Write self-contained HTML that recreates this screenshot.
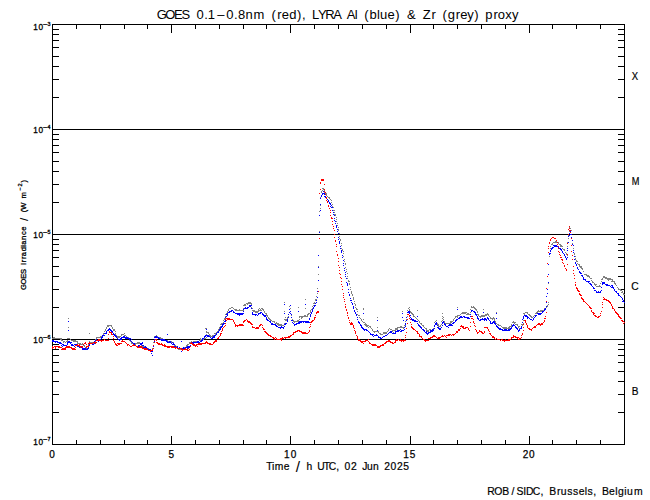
<!DOCTYPE html>
<html><head><meta charset="utf-8"><title>GOES / LYRA</title>
<style>
html,body{margin:0;padding:0;background:#fff;}
body{width:650px;height:500px;overflow:hidden;}
svg{display:block;}
text{font-family:"Liberation Sans", Arial, sans-serif;fill:#000;}
</style></head>
<body>
<svg width="650" height="500" viewBox="0 0 650 500">
<rect x="0" y="0" width="650" height="500" fill="#fff"/>
<g shape-rendering="crispEdges">
<path fill="#000" d="M52 24h573v1h-573zM52 444h573v1h-573zM52 24h1v421h-1zM624 24h1v421h-1zM52 129h572v1h-572zM52 234h572v1h-572zM52 339h572v1h-572zM53 97h6v1h-6zM618 97h6v1h-6zM53 79h6v1h-6zM618 79h6v1h-6zM53 66h6v1h-6zM618 66h6v1h-6zM53 56h6v1h-6zM618 56h6v1h-6zM53 47h6v1h-6zM618 47h6v1h-6zM53 40h6v1h-6zM618 40h6v1h-6zM53 34h6v1h-6zM618 34h6v1h-6zM53 29h6v1h-6zM618 29h6v1h-6zM53 202h6v1h-6zM618 202h6v1h-6zM53 184h6v1h-6zM618 184h6v1h-6zM53 171h6v1h-6zM618 171h6v1h-6zM53 161h6v1h-6zM618 161h6v1h-6zM53 152h6v1h-6zM618 152h6v1h-6zM53 145h6v1h-6zM618 145h6v1h-6zM53 139h6v1h-6zM618 139h6v1h-6zM53 134h6v1h-6zM618 134h6v1h-6zM53 307h6v1h-6zM618 307h6v1h-6zM53 289h6v1h-6zM618 289h6v1h-6zM53 276h6v1h-6zM618 276h6v1h-6zM53 266h6v1h-6zM618 266h6v1h-6zM53 257h6v1h-6zM618 257h6v1h-6zM53 250h6v1h-6zM618 250h6v1h-6zM53 244h6v1h-6zM618 244h6v1h-6zM53 239h6v1h-6zM618 239h6v1h-6zM53 412h6v1h-6zM618 412h6v1h-6zM53 394h6v1h-6zM618 394h6v1h-6zM53 381h6v1h-6zM618 381h6v1h-6zM53 371h6v1h-6zM618 371h6v1h-6zM53 362h6v1h-6zM618 362h6v1h-6zM53 355h6v1h-6zM618 355h6v1h-6zM53 349h6v1h-6zM618 349h6v1h-6zM53 344h6v1h-6zM618 344h6v1h-6zM76 440h1v4h-1zM76 25h1v4h-1zM100 440h1v4h-1zM100 25h1v4h-1zM124 440h1v4h-1zM124 25h1v4h-1zM147 440h1v4h-1zM147 25h1v4h-1zM171 436h1v8h-1zM171 25h1v8h-1zM195 440h1v4h-1zM195 25h1v4h-1zM219 440h1v4h-1zM219 25h1v4h-1zM243 440h1v4h-1zM243 25h1v4h-1zM266 440h1v4h-1zM266 25h1v4h-1zM290 436h1v8h-1zM290 25h1v8h-1zM314 440h1v4h-1zM314 25h1v4h-1zM338 440h1v4h-1zM338 25h1v4h-1zM362 440h1v4h-1zM362 25h1v4h-1zM386 440h1v4h-1zM386 25h1v4h-1zM410 436h1v8h-1zM410 25h1v8h-1zM433 440h1v4h-1zM433 25h1v4h-1zM457 440h1v4h-1zM457 25h1v4h-1zM481 440h1v4h-1zM481 25h1v4h-1zM505 440h1v4h-1zM505 25h1v4h-1zM529 436h1v8h-1zM529 25h1v8h-1zM552 440h1v4h-1zM552 25h1v4h-1zM576 440h1v4h-1zM576 25h1v4h-1zM600 440h1v4h-1zM600 25h1v4h-1z"/>
<path fill="#808080" d="M52 338h1v1h-1zM53 337h1v2h-1zM54 337h1v2h-1zM55 338h1v1h-1zM56 338h1v1h-1zM57 338h1v1h-1zM58 338h1v1h-1zM59 338h1v1h-1zM60 338h1v2h-1zM61 338h1v3h-1zM62 340h1v1h-1zM63 341h1v2h-1zM64 341h1v1h-1zM65 342h1v1h-1zM66 341h1v1h-1zM67 338h1v1h-1zM67 340h1v2h-1zM68 318h1v1h-1zM68 327h1v1h-1zM68 338h1v1h-1zM69 338h1v1h-1zM70 339h1v1h-1zM71 340h1v1h-1zM72 340h1v1h-1zM73 340h1v2h-1zM74 340h1v2h-1zM75 340h1v2h-1zM76 341h1v1h-1zM77 341h1v3h-1zM78 343h1v1h-1zM79 343h1v2h-1zM80 343h1v2h-1zM81 344h1v1h-1zM82 343h1v2h-1zM83 344h1v2h-1zM84 345h1v2h-1zM85 347h1v1h-1zM86 347h1v2h-1zM87 348h1v1h-1zM88 344h1v2h-1zM88 347h1v1h-1zM89 333h1v1h-1zM89 341h1v1h-1zM89 343h1v1h-1zM90 342h1v1h-1zM91 342h1v1h-1zM92 342h1v2h-1zM93 343h1v1h-1zM94 342h1v2h-1zM95 339h1v1h-1zM95 341h1v1h-1zM96 337h1v2h-1zM97 337h1v1h-1zM98 337h1v1h-1zM99 337h1v1h-1zM100 336h1v2h-1zM101 336h1v2h-1zM102 335h1v2h-1zM103 333h1v2h-1zM104 331h1v1h-1zM104 333h1v1h-1zM105 329h1v2h-1zM106 327h1v2h-1zM107 325h1v2h-1zM108 325h1v2h-1zM109 325h1v1h-1zM110 325h1v1h-1zM111 325h1v2h-1zM112 327h1v2h-1zM113 329h1v2h-1zM114 329h1v2h-1zM115 331h1v1h-1zM115 333h1v2h-1zM116 335h1v1h-1zM117 336h1v2h-1zM118 336h1v2h-1zM119 336h1v2h-1zM120 336h1v1h-1zM121 334h1v2h-1zM122 334h1v1h-1zM123 334h1v1h-1zM124 333h1v1h-1zM124 335h1v1h-1zM125 335h1v1h-1zM126 336h1v1h-1zM127 337h1v2h-1zM128 337h1v2h-1zM129 338h1v3h-1zM130 340h1v2h-1zM131 341h1v3h-1zM132 342h1v2h-1zM133 343h1v2h-1zM134 344h1v2h-1zM135 343h1v2h-1zM136 343h1v1h-1zM137 342h1v2h-1zM138 342h1v2h-1zM139 342h1v2h-1zM140 343h1v2h-1zM141 344h1v2h-1zM142 345h1v2h-1zM143 346h1v2h-1zM144 346h1v2h-1zM145 347h1v1h-1zM146 347h1v2h-1zM147 348h1v1h-1zM148 348h1v3h-1zM149 350h1v1h-1zM150 350h1v2h-1zM151 350h1v1h-1zM152 348h1v1h-1zM152 350h1v2h-1zM153 342h1v1h-1zM153 345h1v1h-1zM154 336h1v2h-1zM154 339h1v1h-1zM155 336h1v1h-1zM156 335h1v2h-1zM157 336h1v1h-1zM158 337h1v1h-1zM159 337h1v1h-1zM160 337h1v3h-1zM161 338h1v2h-1zM162 338h1v2h-1zM163 339h1v1h-1zM164 339h1v2h-1zM165 340h1v1h-1zM166 340h1v1h-1zM167 340h1v2h-1zM168 341h1v1h-1zM169 341h1v2h-1zM170 342h1v1h-1zM171 341h1v2h-1zM172 342h1v1h-1zM173 342h1v2h-1zM174 344h1v2h-1zM175 345h1v2h-1zM176 346h1v2h-1zM177 347h1v2h-1zM178 348h1v2h-1zM179 349h1v1h-1zM180 349h1v1h-1zM181 349h1v1h-1zM182 349h1v1h-1zM183 348h1v2h-1zM184 347h1v1h-1zM185 347h1v1h-1zM186 345h1v2h-1zM187 344h1v2h-1zM188 344h1v1h-1zM189 342h1v2h-1zM190 342h1v1h-1zM191 341h1v2h-1zM192 342h1v1h-1zM193 341h1v2h-1zM194 341h1v1h-1zM195 341h1v2h-1zM196 341h1v2h-1zM197 341h1v2h-1zM198 342h1v1h-1zM199 340h1v1h-1zM200 338h1v3h-1zM201 339h1v1h-1zM202 338h1v1h-1zM203 338h1v2h-1zM204 338h1v1h-1zM205 328h1v1h-1zM205 338h1v1h-1zM206 328h1v1h-1zM206 331h1v2h-1zM206 334h1v1h-1zM206 337h1v1h-1zM207 332h1v1h-1zM208 332h1v2h-1zM209 334h1v2h-1zM210 335h1v2h-1zM211 336h1v1h-1zM212 335h1v3h-1zM213 335h1v1h-1zM214 333h1v1h-1zM214 335h1v1h-1zM215 333h1v2h-1zM216 332h1v2h-1zM217 331h1v2h-1zM218 329h1v3h-1zM219 327h1v2h-1zM220 324h1v1h-1zM220 326h1v2h-1zM221 323h1v2h-1zM222 323h1v1h-1zM223 320h1v1h-1zM223 322h1v1h-1zM224 318h1v2h-1zM225 314h1v1h-1zM225 316h1v1h-1zM225 318h1v1h-1zM226 313h1v1h-1zM227 311h1v2h-1zM228 309h1v2h-1zM229 308h1v1h-1zM230 308h1v1h-1zM231 307h1v1h-1zM232 307h1v1h-1zM233 308h1v1h-1zM234 309h1v1h-1zM235 309h1v2h-1zM236 309h1v2h-1zM237 310h1v1h-1zM238 310h1v1h-1zM239 309h1v2h-1zM240 310h1v1h-1zM241 310h1v1h-1zM242 310h1v1h-1zM243 305h1v1h-1zM243 308h1v1h-1zM243 310h1v1h-1zM244 304h1v2h-1zM245 304h1v2h-1zM246 303h1v1h-1zM247 303h1v2h-1zM248 302h1v2h-1zM249 302h1v2h-1zM250 302h1v2h-1zM251 303h1v2h-1zM251 307h1v1h-1zM252 308h1v1h-1zM252 310h1v1h-1zM253 310h1v2h-1zM254 310h1v2h-1zM255 311h1v2h-1zM256 311h1v2h-1zM257 311h1v2h-1zM258 309h1v3h-1zM259 308h1v1h-1zM259 310h1v1h-1zM260 309h1v2h-1zM261 308h1v1h-1zM261 310h1v1h-1zM262 308h1v2h-1zM263 309h1v2h-1zM264 311h1v2h-1zM265 313h1v1h-1zM266 313h1v3h-1zM267 315h1v2h-1zM268 317h1v2h-1zM269 318h1v2h-1zM270 319h1v2h-1zM271 320h1v1h-1zM272 321h1v1h-1zM273 321h1v1h-1zM274 321h1v2h-1zM275 323h1v1h-1zM276 322h1v2h-1zM277 323h1v2h-1zM278 323h1v3h-1zM279 324h1v2h-1zM280 324h1v2h-1zM281 324h1v2h-1zM282 325h1v1h-1zM283 325h1v1h-1zM284 302h1v1h-1zM284 311h1v1h-1zM284 319h1v1h-1zM284 323h1v1h-1zM285 317h1v1h-1zM285 319h1v2h-1zM286 319h1v2h-1zM287 317h1v2h-1zM287 320h1v1h-1zM288 314h1v1h-1zM288 316h1v1h-1zM289 306h1v1h-1zM289 309h1v1h-1zM289 312h1v1h-1zM290 305h1v1h-1zM290 308h1v1h-1zM290 311h1v1h-1zM291 314h1v2h-1zM291 317h1v1h-1zM292 319h1v2h-1zM293 320h1v2h-1zM294 321h1v2h-1zM295 321h1v1h-1zM296 321h1v1h-1zM297 320h1v2h-1zM298 307h1v1h-1zM298 320h1v2h-1zM299 316h1v2h-1zM299 319h1v1h-1zM300 316h1v1h-1zM301 316h1v3h-1zM302 316h1v2h-1zM303 316h1v1h-1zM304 315h1v2h-1zM305 299h1v1h-1zM305 308h1v1h-1zM305 315h1v2h-1zM306 316h1v1h-1zM307 314h1v3h-1zM308 313h1v2h-1zM309 313h1v1h-1zM310 310h1v3h-1zM311 309h1v1h-1zM312 306h1v1h-1zM312 308h1v1h-1zM313 303h1v1h-1zM313 305h1v1h-1zM314 302h1v2h-1zM315 299h1v2h-1zM316 296h1v1h-1zM316 299h1v1h-1zM317 288h1v1h-1zM317 293h1v1h-1zM318 266h1v1h-1zM318 274h1v1h-1zM318 280h1v1h-1zM319 211h1v1h-1zM319 231h1v1h-1zM320 197h1v1h-1zM320 205h1v1h-1zM320 208h1v1h-1zM321 191h1v2h-1zM322 188h1v1h-1zM322 190h1v1h-1zM323 188h1v2h-1zM324 190h1v3h-1zM325 192h1v2h-1zM326 193h1v3h-1zM327 196h1v1h-1zM328 197h1v1h-1zM329 197h1v2h-1zM330 199h1v1h-1zM331 200h1v1h-1zM331 202h1v1h-1zM332 204h1v1h-1zM332 206h1v2h-1zM333 207h1v1h-1zM333 210h1v1h-1zM334 210h1v1h-1zM334 212h1v1h-1zM334 214h1v1h-1zM335 214h1v2h-1zM336 217h1v1h-1zM336 219h1v1h-1zM336 221h1v1h-1zM337 223h1v1h-1zM337 225h1v1h-1zM338 227h1v1h-1zM338 229h1v2h-1zM339 233h1v1h-1zM339 236h1v1h-1zM339 238h1v1h-1zM340 239h1v2h-1zM341 243h1v1h-1zM341 245h1v1h-1zM341 248h1v1h-1zM342 249h1v2h-1zM343 251h1v1h-1zM343 253h1v1h-1zM343 256h1v1h-1zM344 259h1v1h-1zM344 261h1v1h-1zM345 263h1v2h-1zM345 267h1v1h-1zM346 269h1v1h-1zM346 271h1v1h-1zM347 273h1v1h-1zM347 276h1v1h-1zM347 278h1v1h-1zM348 280h1v2h-1zM349 281h1v1h-1zM349 283h1v2h-1zM350 287h1v1h-1zM350 289h1v1h-1zM351 291h1v3h-1zM352 294h1v2h-1zM353 297h1v3h-1zM354 301h1v1h-1zM354 303h1v1h-1zM355 304h1v2h-1zM355 307h1v1h-1zM356 308h1v2h-1zM357 309h1v1h-1zM357 311h1v1h-1zM357 314h1v1h-1zM358 315h1v1h-1zM359 315h1v1h-1zM359 317h1v1h-1zM360 318h1v1h-1zM361 319h1v2h-1zM362 321h1v1h-1zM363 308h1v2h-1zM363 319h1v1h-1zM363 322h1v1h-1zM364 322h1v1h-1zM364 324h1v1h-1zM365 323h1v3h-1zM366 324h1v3h-1zM367 325h1v2h-1zM368 325h1v1h-1zM368 327h1v1h-1zM369 326h1v1h-1zM370 326h1v2h-1zM371 328h1v1h-1zM372 329h1v2h-1zM373 331h1v1h-1zM374 331h1v2h-1zM375 331h1v1h-1zM376 331h1v1h-1zM377 317h1v1h-1zM377 327h1v1h-1zM377 331h1v1h-1zM378 331h1v2h-1zM379 333h1v1h-1zM380 333h1v2h-1zM381 334h1v1h-1zM382 334h1v1h-1zM383 332h1v2h-1zM384 332h1v2h-1zM385 332h1v2h-1zM386 332h1v2h-1zM387 331h1v1h-1zM388 329h1v2h-1zM389 328h1v1h-1zM390 329h1v1h-1zM391 329h1v1h-1zM392 330h1v2h-1zM393 330h1v1h-1zM393 332h1v1h-1zM394 330h1v1h-1zM395 328h1v3h-1zM396 328h1v2h-1zM397 327h1v3h-1zM398 327h1v1h-1zM399 327h1v1h-1zM400 326h1v2h-1zM401 326h1v2h-1zM402 311h1v1h-1zM402 327h1v1h-1zM403 327h1v2h-1zM404 325h1v1h-1zM404 327h1v1h-1zM405 321h1v1h-1zM405 323h1v1h-1zM405 325h1v1h-1zM406 317h1v1h-1zM406 319h1v1h-1zM407 310h1v1h-1zM407 312h1v1h-1zM407 316h1v1h-1zM408 308h1v1h-1zM409 307h1v1h-1zM409 309h1v2h-1zM410 311h1v2h-1zM411 312h1v2h-1zM412 313h1v2h-1zM413 314h1v3h-1zM414 316h1v1h-1zM415 317h1v1h-1zM416 318h1v1h-1zM417 310h1v1h-1zM417 319h1v1h-1zM418 320h1v1h-1zM419 321h1v2h-1zM420 323h1v1h-1zM421 323h1v2h-1zM422 325h1v1h-1zM423 325h1v2h-1zM424 327h1v1h-1zM425 328h1v1h-1zM426 328h1v3h-1zM427 330h1v2h-1zM428 330h1v2h-1zM429 329h1v1h-1zM430 329h1v2h-1zM431 330h1v1h-1zM432 329h1v2h-1zM433 328h1v2h-1zM434 322h1v1h-1zM434 325h1v1h-1zM434 328h1v1h-1zM435 321h1v1h-1zM436 320h1v1h-1zM436 322h1v2h-1zM437 323h1v2h-1zM438 324h1v3h-1zM439 326h1v1h-1zM440 325h1v2h-1zM441 321h1v1h-1zM441 324h1v1h-1zM442 313h1v1h-1zM442 316h1v1h-1zM442 318h1v1h-1zM442 320h1v1h-1zM443 317h1v1h-1zM443 319h1v1h-1zM444 321h1v3h-1zM445 323h1v1h-1zM446 323h1v1h-1zM447 323h1v1h-1zM448 323h1v1h-1zM449 323h1v1h-1zM450 321h1v3h-1zM451 321h1v2h-1zM452 321h1v1h-1zM453 319h1v2h-1zM454 318h1v1h-1zM455 316h1v2h-1zM456 316h1v1h-1zM457 307h1v1h-1zM457 315h1v3h-1zM458 315h1v1h-1zM459 315h1v1h-1zM460 314h1v1h-1zM461 313h1v1h-1zM462 312h1v2h-1zM463 312h1v2h-1zM464 312h1v2h-1zM465 312h1v2h-1zM466 312h1v1h-1zM466 314h1v1h-1zM467 313h1v2h-1zM468 313h1v2h-1zM469 314h1v1h-1zM470 309h1v1h-1zM470 312h1v1h-1zM471 306h1v2h-1zM472 307h1v1h-1zM473 306h1v2h-1zM474 307h1v2h-1zM475 308h1v2h-1zM476 309h1v2h-1zM477 311h1v2h-1zM477 314h1v1h-1zM478 314h1v2h-1zM479 316h1v1h-1zM480 316h1v2h-1zM481 315h1v2h-1zM482 315h1v2h-1zM483 309h1v1h-1zM483 315h1v2h-1zM484 315h1v2h-1zM485 314h1v2h-1zM486 314h1v2h-1zM487 313h1v2h-1zM488 314h1v2h-1zM489 316h1v1h-1zM490 317h1v2h-1zM491 318h1v1h-1zM492 318h1v2h-1zM493 317h1v2h-1zM494 318h1v3h-1zM495 321h1v2h-1zM496 312h1v1h-1zM496 323h1v1h-1zM497 324h1v1h-1zM498 324h1v2h-1zM499 325h1v1h-1zM500 325h1v1h-1zM501 326h1v1h-1zM502 327h1v1h-1zM503 327h1v2h-1zM504 327h1v2h-1zM505 327h1v2h-1zM506 327h1v2h-1zM507 328h1v1h-1zM508 327h1v2h-1zM509 326h1v3h-1zM510 326h1v1h-1zM510 328h1v1h-1zM511 324h1v3h-1zM512 322h1v1h-1zM513 321h1v2h-1zM514 322h1v2h-1zM515 322h1v1h-1zM515 324h1v1h-1zM516 324h1v1h-1zM517 324h1v2h-1zM518 326h1v2h-1zM519 326h1v1h-1zM519 328h1v1h-1zM520 328h1v1h-1zM521 324h1v1h-1zM521 326h1v2h-1zM522 324h1v2h-1zM523 313h1v1h-1zM523 316h1v1h-1zM523 320h1v1h-1zM523 323h1v1h-1zM524 313h1v2h-1zM525 312h1v1h-1zM526 312h1v1h-1zM527 312h1v2h-1zM528 314h1v1h-1zM529 314h1v2h-1zM530 315h1v2h-1zM531 316h1v2h-1zM532 317h1v1h-1zM533 316h1v1h-1zM534 315h1v1h-1zM535 313h1v1h-1zM535 315h1v1h-1zM536 312h1v2h-1zM537 311h1v2h-1zM538 310h1v2h-1zM539 311h1v1h-1zM540 310h1v2h-1zM541 310h1v2h-1zM542 310h1v2h-1zM543 310h1v1h-1zM544 308h1v2h-1zM545 308h1v1h-1zM546 307h1v1h-1zM547 305h1v2h-1zM548 283h1v1h-1zM548 302h1v1h-1zM548 304h1v1h-1zM549 253h1v1h-1zM549 256h1v1h-1zM550 246h1v1h-1zM550 248h1v1h-1zM550 250h1v1h-1zM551 244h1v1h-1zM552 243h1v2h-1zM553 242h1v1h-1zM554 242h1v1h-1zM555 241h1v2h-1zM556 241h1v2h-1zM557 242h1v1h-1zM558 242h1v2h-1zM559 244h1v1h-1zM560 244h1v3h-1zM561 245h1v2h-1zM562 246h1v1h-1zM562 248h1v1h-1zM563 249h1v1h-1zM564 249h1v2h-1zM565 252h1v1h-1zM566 253h1v2h-1zM567 242h1v1h-1zM567 246h1v1h-1zM567 255h1v1h-1zM568 235h1v1h-1zM568 238h1v1h-1zM569 227h1v2h-1zM569 231h1v1h-1zM570 228h1v1h-1zM570 230h1v1h-1zM571 230h1v1h-1zM571 234h1v1h-1zM571 237h1v1h-1zM572 240h1v1h-1zM572 243h1v1h-1zM573 245h1v1h-1zM573 248h1v1h-1zM573 250h1v1h-1zM574 253h1v2h-1zM575 256h1v1h-1zM575 258h1v2h-1zM576 260h1v2h-1zM577 261h1v1h-1zM577 263h1v1h-1zM578 264h1v1h-1zM579 264h1v3h-1zM580 266h1v2h-1zM581 266h1v3h-1zM582 268h1v2h-1zM583 271h1v1h-1zM584 274h1v1h-1zM585 274h1v1h-1zM586 274h1v2h-1zM587 275h1v2h-1zM588 275h1v2h-1zM589 276h1v2h-1zM590 278h1v1h-1zM591 278h1v1h-1zM591 280h1v1h-1zM592 281h1v2h-1zM593 282h1v1h-1zM594 283h1v2h-1zM595 284h1v2h-1zM596 284h1v1h-1zM596 286h1v1h-1zM597 286h1v1h-1zM598 286h1v1h-1zM599 285h1v2h-1zM600 283h1v1h-1zM600 286h1v1h-1zM601 279h1v1h-1zM601 281h1v1h-1zM602 278h1v2h-1zM603 276h1v2h-1zM604 276h1v2h-1zM605 277h1v2h-1zM606 277h1v2h-1zM607 278h1v2h-1zM608 278h1v3h-1zM609 278h1v2h-1zM610 278h1v2h-1zM611 279h1v1h-1zM611 281h1v1h-1zM612 279h1v3h-1zM613 281h1v1h-1zM614 281h1v3h-1zM615 283h1v2h-1zM616 285h1v1h-1zM617 287h1v1h-1zM618 288h1v2h-1zM619 289h1v1h-1zM620 289h1v2h-1zM621 290h1v1h-1zM621 292h1v1h-1zM622 291h1v2h-1zM623 293h1v2h-1zM624 294h1v1h-1z"/>
<path fill="#0000ff" d="M52 340h1v2h-1zM53 340h1v2h-1zM54 341h1v1h-1zM55 341h1v2h-1zM56 341h1v1h-1zM57 341h1v2h-1zM58 342h1v1h-1zM59 342h1v2h-1zM60 342h1v2h-1zM61 343h1v1h-1zM61 345h1v1h-1zM62 344h1v1h-1zM62 346h1v1h-1zM63 344h1v2h-1zM64 345h1v1h-1zM65 345h1v1h-1zM66 345h1v1h-1zM67 342h1v3h-1zM68 321h1v1h-1zM68 330h1v1h-1zM68 341h1v2h-1zM69 341h1v2h-1zM70 342h1v2h-1zM71 342h1v1h-1zM71 344h1v2h-1zM72 344h1v2h-1zM73 345h1v1h-1zM74 344h1v1h-1zM74 346h1v1h-1zM75 344h1v1h-1zM76 344h1v1h-1zM77 345h1v2h-1zM78 346h1v1h-1zM79 347h1v1h-1zM80 347h1v1h-1zM81 347h1v1h-1zM82 348h1v2h-1zM83 348h1v2h-1zM84 348h1v2h-1zM85 348h1v2h-1zM86 349h1v1h-1zM87 348h1v2h-1zM88 346h1v3h-1zM89 344h1v2h-1zM90 343h1v1h-1zM91 343h1v1h-1zM92 343h1v2h-1zM93 344h1v1h-1zM94 341h1v3h-1zM95 340h1v1h-1zM96 339h1v2h-1zM97 340h1v1h-1zM98 340h1v2h-1zM99 340h1v1h-1zM100 339h1v2h-1zM101 337h1v2h-1zM102 335h1v3h-1zM103 335h1v1h-1zM104 333h1v1h-1zM104 335h1v1h-1zM105 333h1v1h-1zM106 331h1v3h-1zM107 330h1v1h-1zM108 329h1v2h-1zM109 328h1v2h-1zM110 329h1v2h-1zM111 330h1v2h-1zM112 331h1v2h-1zM113 333h1v2h-1zM114 334h1v2h-1zM115 335h1v2h-1zM116 336h1v2h-1zM117 338h1v1h-1zM118 339h1v1h-1zM119 339h1v2h-1zM120 338h1v2h-1zM121 337h1v3h-1zM122 337h1v1h-1zM123 336h1v2h-1zM124 336h1v2h-1zM125 337h1v2h-1zM126 337h1v2h-1zM127 337h1v2h-1zM128 338h1v1h-1zM129 338h1v2h-1zM130 338h1v1h-1zM130 340h1v1h-1zM131 339h1v1h-1zM131 341h1v1h-1zM132 342h1v1h-1zM133 343h1v1h-1zM134 343h1v2h-1zM135 345h1v1h-1zM136 346h1v1h-1zM137 346h1v1h-1zM138 345h1v3h-1zM139 345h1v2h-1zM140 343h1v2h-1zM141 343h1v2h-1zM142 342h1v2h-1zM142 345h1v1h-1zM143 345h1v1h-1zM143 347h1v1h-1zM144 347h1v1h-1zM145 346h1v2h-1zM146 347h1v2h-1zM147 348h1v2h-1zM148 349h1v1h-1zM149 349h1v1h-1zM150 349h1v3h-1zM151 351h1v1h-1zM151 353h1v1h-1zM152 349h1v1h-1zM152 351h1v1h-1zM152 355h1v1h-1zM153 345h1v2h-1zM154 337h1v1h-1zM154 339h1v1h-1zM154 341h1v1h-1zM155 336h1v2h-1zM156 336h1v2h-1zM157 337h1v1h-1zM158 337h1v2h-1zM159 338h1v1h-1zM160 339h1v1h-1zM161 339h1v2h-1zM162 339h1v2h-1zM163 339h1v2h-1zM164 339h1v2h-1zM165 340h1v1h-1zM166 340h1v2h-1zM167 334h1v1h-1zM167 341h1v2h-1zM168 342h1v1h-1zM169 341h1v2h-1zM170 341h1v2h-1zM171 343h1v1h-1zM172 342h1v1h-1zM172 344h1v1h-1zM173 343h1v2h-1zM174 344h1v1h-1zM174 346h1v1h-1zM175 346h1v2h-1zM176 347h1v1h-1zM177 346h1v2h-1zM178 348h1v1h-1zM179 347h1v2h-1zM180 348h1v1h-1zM181 341h1v1h-1zM181 348h1v2h-1zM181 351h1v1h-1zM182 348h1v1h-1zM183 347h1v2h-1zM184 348h1v1h-1zM185 347h1v2h-1zM186 347h1v1h-1zM187 346h1v3h-1zM188 346h1v2h-1zM189 346h1v2h-1zM190 345h1v2h-1zM191 343h1v1h-1zM192 342h1v2h-1zM193 342h1v2h-1zM194 342h1v1h-1zM195 342h1v1h-1zM196 342h1v1h-1zM197 341h1v2h-1zM198 341h1v2h-1zM199 342h1v1h-1zM200 341h1v1h-1zM201 340h1v2h-1zM202 338h1v3h-1zM203 338h1v1h-1zM204 336h1v2h-1zM205 335h1v2h-1zM206 329h1v1h-1zM206 335h1v1h-1zM207 335h1v2h-1zM208 335h1v2h-1zM209 336h1v1h-1zM210 337h1v1h-1zM211 338h1v1h-1zM212 337h1v2h-1zM213 336h1v2h-1zM214 335h1v3h-1zM215 335h1v1h-1zM216 333h1v2h-1zM217 332h1v1h-1zM218 331h1v2h-1zM219 329h1v2h-1zM220 327h1v3h-1zM221 326h1v2h-1zM222 324h1v3h-1zM223 323h1v2h-1zM224 321h1v1h-1zM224 323h1v1h-1zM225 317h1v1h-1zM225 320h1v2h-1zM226 314h1v1h-1zM226 316h1v1h-1zM227 313h1v3h-1zM228 312h1v1h-1zM229 311h1v2h-1zM230 311h1v1h-1zM231 310h1v2h-1zM232 310h1v1h-1zM233 311h1v2h-1zM234 312h1v1h-1zM235 313h1v1h-1zM236 313h1v1h-1zM237 313h1v2h-1zM238 313h1v2h-1zM239 313h1v3h-1zM240 313h1v2h-1zM241 313h1v2h-1zM242 313h1v2h-1zM243 309h1v1h-1zM243 311h1v1h-1zM243 313h1v1h-1zM244 308h1v1h-1zM245 307h1v2h-1zM246 308h1v1h-1zM247 307h1v2h-1zM248 307h1v1h-1zM249 305h1v2h-1zM250 305h1v2h-1zM251 305h1v1h-1zM251 308h1v1h-1zM252 312h1v3h-1zM253 314h1v1h-1zM254 314h1v1h-1zM255 314h1v2h-1zM256 314h1v1h-1zM257 315h1v1h-1zM258 313h1v2h-1zM259 313h1v1h-1zM260 312h1v2h-1zM261 312h1v1h-1zM262 313h1v2h-1zM263 314h1v2h-1zM264 315h1v2h-1zM265 315h1v2h-1zM266 317h1v3h-1zM267 319h1v2h-1zM268 320h1v1h-1zM269 321h1v1h-1zM270 321h1v2h-1zM271 323h1v2h-1zM272 323h1v2h-1zM273 324h1v1h-1zM274 324h1v1h-1zM275 324h1v2h-1zM276 325h1v2h-1zM277 326h1v1h-1zM278 327h1v1h-1zM279 327h1v1h-1zM280 327h1v2h-1zM281 326h1v2h-1zM282 327h1v1h-1zM283 327h1v2h-1zM284 304h1v1h-1zM284 313h1v1h-1zM284 324h1v1h-1zM284 326h1v1h-1zM285 323h1v2h-1zM286 323h1v1h-1zM287 319h1v3h-1zM288 314h1v1h-1zM288 317h1v1h-1zM289 309h1v1h-1zM289 312h1v1h-1zM290 305h1v1h-1zM290 311h1v1h-1zM290 313h1v1h-1zM291 314h1v1h-1zM291 317h1v1h-1zM291 320h1v1h-1zM292 320h1v1h-1zM292 322h1v1h-1zM293 323h1v1h-1zM294 324h1v2h-1zM295 324h1v1h-1zM296 323h1v2h-1zM297 323h1v1h-1zM298 311h1v1h-1zM298 322h1v2h-1zM299 321h1v3h-1zM300 321h1v2h-1zM301 321h1v2h-1zM302 321h1v1h-1zM303 321h1v2h-1zM304 321h1v1h-1zM305 304h1v1h-1zM305 321h1v2h-1zM306 321h1v2h-1zM307 321h1v2h-1zM308 321h1v2h-1zM309 318h1v2h-1zM309 322h1v1h-1zM310 314h1v3h-1zM311 312h1v2h-1zM312 309h1v3h-1zM313 307h1v2h-1zM314 305h1v2h-1zM315 303h1v1h-1zM315 305h1v1h-1zM316 300h1v1h-1zM316 302h1v1h-1zM317 291h1v1h-1zM317 297h1v1h-1zM318 255h1v1h-1zM318 267h1v1h-1zM318 280h1v1h-1zM319 215h1v1h-1zM319 232h1v1h-1zM320 198h1v1h-1zM320 204h1v1h-1zM320 210h1v1h-1zM321 195h1v2h-1zM322 193h1v2h-1zM323 191h1v1h-1zM323 193h1v1h-1zM324 193h1v2h-1zM324 196h1v1h-1zM325 196h1v2h-1zM326 197h1v2h-1zM327 199h1v1h-1zM328 200h1v2h-1zM329 202h1v2h-1zM330 203h1v2h-1zM330 206h1v1h-1zM331 205h1v1h-1zM331 207h1v1h-1zM332 207h1v1h-1zM332 210h1v1h-1zM333 212h1v1h-1zM333 214h1v1h-1zM334 215h1v1h-1zM334 218h1v1h-1zM334 220h1v1h-1zM335 221h1v1h-1zM335 223h1v1h-1zM336 225h1v3h-1zM337 229h1v1h-1zM337 231h1v1h-1zM338 233h1v1h-1zM338 237h1v1h-1zM338 239h1v1h-1zM339 241h1v3h-1zM340 246h1v1h-1zM340 248h1v1h-1zM341 250h1v3h-1zM342 255h1v1h-1zM342 257h1v1h-1zM343 260h1v1h-1zM343 263h1v1h-1zM343 265h1v1h-1zM344 268h1v1h-1zM344 270h1v1h-1zM345 272h1v1h-1zM345 274h1v1h-1zM345 276h1v1h-1zM346 278h1v1h-1zM346 282h1v1h-1zM347 283h1v3h-1zM348 289h1v1h-1zM348 292h1v1h-1zM349 294h1v2h-1zM350 298h1v1h-1zM350 300h1v1h-1zM351 300h1v1h-1zM351 302h1v1h-1zM352 303h1v2h-1zM353 306h1v3h-1zM354 310h1v2h-1zM355 312h1v2h-1zM356 314h1v2h-1zM357 317h1v1h-1zM357 319h1v1h-1zM358 321h1v2h-1zM359 322h1v2h-1zM360 324h1v2h-1zM361 325h1v3h-1zM362 327h1v2h-1zM363 313h1v1h-1zM363 328h1v2h-1zM364 329h1v2h-1zM365 329h1v1h-1zM366 329h1v2h-1zM367 330h1v1h-1zM368 331h1v1h-1zM369 332h1v1h-1zM370 333h1v2h-1zM371 334h1v1h-1zM372 334h1v2h-1zM373 334h1v1h-1zM373 336h1v1h-1zM374 335h1v1h-1zM375 335h1v1h-1zM376 334h1v2h-1zM377 320h1v1h-1zM377 330h1v1h-1zM377 335h1v1h-1zM378 336h1v2h-1zM379 337h1v1h-1zM380 337h1v2h-1zM381 338h1v1h-1zM382 337h1v1h-1zM383 336h1v1h-1zM384 336h1v1h-1zM385 335h1v1h-1zM386 335h1v1h-1zM387 334h1v1h-1zM388 333h1v1h-1zM389 332h1v1h-1zM390 331h1v2h-1zM391 331h1v2h-1zM392 333h1v1h-1zM393 333h1v1h-1zM394 333h1v1h-1zM395 331h1v3h-1zM396 331h1v1h-1zM397 330h1v2h-1zM398 330h1v2h-1zM399 330h1v1h-1zM400 329h1v1h-1zM400 331h1v1h-1zM401 330h1v2h-1zM402 313h1v1h-1zM402 317h1v1h-1zM402 330h1v1h-1zM403 320h1v1h-1zM403 330h1v1h-1zM404 327h1v1h-1zM404 329h1v1h-1zM405 323h1v2h-1zM405 326h1v1h-1zM406 317h1v1h-1zM406 320h1v1h-1zM407 312h1v1h-1zM407 314h1v1h-1zM408 311h1v2h-1zM409 311h1v3h-1zM410 315h1v1h-1zM410 317h1v1h-1zM411 318h1v2h-1zM412 319h1v2h-1zM413 319h1v2h-1zM414 320h1v2h-1zM415 320h1v2h-1zM416 321h1v1h-1zM417 316h1v1h-1zM417 321h1v1h-1zM417 323h1v1h-1zM418 324h1v2h-1zM419 325h1v2h-1zM420 326h1v2h-1zM421 327h1v2h-1zM422 329h1v1h-1zM423 329h1v2h-1zM424 330h1v2h-1zM425 332h1v1h-1zM426 331h1v3h-1zM427 333h1v2h-1zM428 332h1v2h-1zM429 332h1v1h-1zM430 330h1v3h-1zM431 330h1v2h-1zM432 329h1v3h-1zM433 329h1v2h-1zM434 325h1v2h-1zM434 328h1v1h-1zM435 323h1v2h-1zM436 322h1v3h-1zM437 325h1v1h-1zM437 327h1v1h-1zM438 327h1v2h-1zM439 328h1v2h-1zM440 328h1v2h-1zM441 327h1v1h-1zM442 322h1v2h-1zM442 325h1v1h-1zM443 321h1v2h-1zM444 323h1v2h-1zM445 324h1v2h-1zM446 326h1v1h-1zM447 326h1v1h-1zM448 325h1v1h-1zM448 327h1v1h-1zM449 324h1v2h-1zM450 324h1v2h-1zM451 324h1v2h-1zM452 323h1v1h-1zM452 325h1v1h-1zM453 322h1v2h-1zM454 322h1v1h-1zM455 320h1v2h-1zM456 319h1v2h-1zM457 309h1v1h-1zM457 319h1v1h-1zM458 318h1v1h-1zM459 317h1v2h-1zM460 316h1v2h-1zM461 316h1v2h-1zM462 317h1v1h-1zM463 316h1v1h-1zM464 316h1v2h-1zM465 317h1v1h-1zM466 317h1v1h-1zM467 317h1v2h-1zM468 317h1v2h-1zM469 318h1v1h-1zM470 314h1v1h-1zM470 316h1v1h-1zM471 310h1v2h-1zM472 310h1v1h-1zM473 311h1v1h-1zM474 311h1v2h-1zM475 312h1v3h-1zM476 314h1v2h-1zM477 316h1v3h-1zM478 318h1v2h-1zM479 320h1v1h-1zM480 319h1v2h-1zM481 319h1v1h-1zM482 318h1v2h-1zM483 312h1v1h-1zM483 319h1v1h-1zM484 318h1v3h-1zM485 318h1v2h-1zM486 319h1v2h-1zM487 317h1v2h-1zM488 318h1v2h-1zM489 320h1v1h-1zM490 321h1v3h-1zM491 323h1v1h-1zM492 322h1v2h-1zM493 321h1v2h-1zM494 321h1v3h-1zM495 323h1v2h-1zM496 313h1v1h-1zM496 318h1v1h-1zM496 325h1v2h-1zM497 326h1v2h-1zM498 327h1v2h-1zM499 328h1v2h-1zM500 328h1v2h-1zM501 329h1v1h-1zM502 329h1v2h-1zM503 330h1v1h-1zM504 329h1v2h-1zM505 329h1v2h-1zM506 329h1v2h-1zM507 330h1v1h-1zM508 329h1v2h-1zM509 329h1v2h-1zM510 328h1v2h-1zM511 327h1v2h-1zM512 325h1v2h-1zM513 324h1v2h-1zM514 325h1v1h-1zM515 326h1v2h-1zM516 327h1v2h-1zM517 328h1v2h-1zM518 330h1v2h-1zM519 329h1v2h-1zM520 328h1v1h-1zM521 326h1v3h-1zM522 319h1v1h-1zM522 322h1v1h-1zM523 316h1v3h-1zM524 315h1v1h-1zM525 315h1v2h-1zM526 315h1v2h-1zM527 316h1v3h-1zM528 317h1v1h-1zM529 318h1v1h-1zM530 319h1v1h-1zM531 319h1v1h-1zM532 320h1v1h-1zM533 318h1v2h-1zM534 317h1v1h-1zM535 315h1v2h-1zM536 315h1v1h-1zM537 313h1v1h-1zM538 313h1v2h-1zM539 313h1v2h-1zM540 313h1v2h-1zM541 313h1v1h-1zM542 311h1v2h-1zM543 311h1v1h-1zM544 309h1v2h-1zM545 308h1v2h-1zM546 296h1v1h-1zM546 302h1v1h-1zM546 306h1v1h-1zM547 289h1v1h-1zM547 293h1v1h-1zM548 264h1v1h-1zM548 274h1v1h-1zM548 282h1v1h-1zM549 253h1v2h-1zM550 250h1v2h-1zM550 253h1v1h-1zM551 248h1v2h-1zM552 247h1v2h-1zM553 245h1v1h-1zM553 247h1v1h-1zM554 245h1v2h-1zM555 245h1v2h-1zM556 245h1v2h-1zM557 246h1v1h-1zM558 246h1v2h-1zM559 248h1v1h-1zM560 248h1v2h-1zM561 249h1v2h-1zM562 251h1v2h-1zM563 253h1v1h-1zM564 254h1v2h-1zM565 256h1v2h-1zM566 258h1v2h-1zM567 248h1v1h-1zM567 250h1v1h-1zM567 257h1v1h-1zM568 236h1v1h-1zM568 242h1v1h-1zM569 233h1v1h-1zM569 235h1v1h-1zM570 231h1v1h-1zM570 234h1v1h-1zM571 234h1v1h-1zM571 237h1v2h-1zM572 240h1v1h-1zM572 244h1v1h-1zM573 245h1v1h-1zM573 250h1v1h-1zM573 252h1v1h-1zM574 256h1v1h-1zM574 259h1v1h-1zM575 262h1v2h-1zM576 264h1v2h-1zM577 267h1v2h-1zM578 269h1v1h-1zM579 271h1v2h-1zM580 272h1v2h-1zM581 273h1v1h-1zM581 275h1v1h-1zM582 275h1v2h-1zM583 277h1v3h-1zM584 279h1v1h-1zM585 279h1v2h-1zM586 281h1v1h-1zM587 281h1v1h-1zM588 281h1v2h-1zM589 281h1v1h-1zM589 283h1v1h-1zM590 283h1v2h-1zM591 284h1v2h-1zM592 286h1v1h-1zM593 287h1v2h-1zM594 288h1v1h-1zM594 290h1v1h-1zM595 290h1v1h-1zM596 291h1v2h-1zM597 292h1v1h-1zM598 291h1v2h-1zM599 292h1v1h-1zM600 291h1v2h-1zM601 287h1v1h-1zM601 290h1v1h-1zM602 282h1v3h-1zM603 282h1v2h-1zM604 282h1v2h-1zM605 284h1v1h-1zM606 284h1v2h-1zM607 284h1v2h-1zM608 285h1v1h-1zM609 285h1v1h-1zM610 286h1v1h-1zM611 285h1v1h-1zM611 287h1v1h-1zM612 285h1v3h-1zM613 287h1v2h-1zM614 289h1v2h-1zM615 291h1v1h-1zM616 291h1v2h-1zM617 293h1v1h-1zM618 293h1v3h-1zM619 295h1v1h-1zM620 296h1v1h-1zM621 297h1v1h-1zM622 298h1v2h-1zM622 301h1v1h-1zM623 300h1v2h-1zM624 302h1v1h-1z"/>
<path fill="#ff0000" d="M52 346h1v3h-1zM53 347h1v1h-1zM54 346h1v1h-1zM55 346h1v3h-1zM56 346h1v1h-1zM57 346h1v1h-1zM58 346h1v2h-1zM59 346h1v2h-1zM60 347h1v1h-1zM61 347h1v1h-1zM61 349h1v1h-1zM62 348h1v2h-1zM63 348h1v2h-1zM64 348h1v2h-1zM65 347h1v3h-1zM66 346h1v2h-1zM67 346h1v2h-1zM68 346h1v2h-1zM69 346h1v2h-1zM70 347h1v1h-1zM71 347h1v2h-1zM72 348h1v2h-1zM73 348h1v2h-1zM74 348h1v2h-1zM75 345h1v1h-1zM75 347h1v1h-1zM75 349h1v1h-1zM76 345h1v1h-1zM77 344h1v2h-1zM78 345h1v1h-1zM79 344h1v3h-1zM80 346h1v2h-1zM81 346h1v1h-1zM82 346h1v2h-1zM83 344h1v1h-1zM84 343h1v1h-1zM85 342h1v2h-1zM86 344h1v1h-1zM86 346h1v2h-1zM87 346h1v1h-1zM88 343h1v1h-1zM88 345h1v2h-1zM89 342h1v2h-1zM90 343h1v1h-1zM91 343h1v1h-1zM92 343h1v1h-1zM93 342h1v1h-1zM94 342h1v1h-1zM95 342h1v2h-1zM96 340h1v1h-1zM96 342h1v1h-1zM97 340h1v1h-1zM98 339h1v2h-1zM99 339h1v2h-1zM100 340h1v1h-1zM101 340h1v2h-1zM102 340h1v1h-1zM103 340h1v1h-1zM104 339h1v1h-1zM105 340h1v1h-1zM106 340h1v1h-1zM107 340h1v1h-1zM108 334h1v1h-1zM108 338h1v1h-1zM108 340h1v1h-1zM109 331h1v2h-1zM110 332h1v1h-1zM111 332h1v3h-1zM112 334h1v1h-1zM113 336h1v1h-1zM113 338h1v1h-1zM113 340h1v1h-1zM114 341h1v2h-1zM115 343h1v2h-1zM116 344h1v2h-1zM117 343h1v1h-1zM117 345h1v1h-1zM118 343h1v2h-1zM119 343h1v2h-1zM120 343h1v1h-1zM121 341h1v1h-1zM121 343h1v1h-1zM122 340h1v2h-1zM123 341h1v1h-1zM124 341h1v1h-1zM125 342h1v1h-1zM126 343h1v1h-1zM127 344h1v2h-1zM128 344h1v1h-1zM129 345h1v1h-1zM130 346h1v1h-1zM131 346h1v1h-1zM132 345h1v1h-1zM133 344h1v2h-1zM134 345h1v1h-1zM135 345h1v1h-1zM136 346h1v1h-1zM137 346h1v2h-1zM138 347h1v1h-1zM139 346h1v2h-1zM140 346h1v2h-1zM141 346h1v2h-1zM142 347h1v2h-1zM143 348h1v1h-1zM144 348h1v2h-1zM145 348h1v2h-1zM146 348h1v2h-1zM147 349h1v1h-1zM148 350h1v1h-1zM149 350h1v1h-1zM150 350h1v2h-1zM151 350h1v1h-1zM152 349h1v2h-1zM153 345h1v1h-1zM153 348h1v1h-1zM154 340h1v1h-1zM154 342h1v1h-1zM155 339h1v1h-1zM156 339h1v2h-1zM156 342h1v1h-1zM157 342h1v2h-1zM158 343h1v2h-1zM159 343h1v2h-1zM160 344h1v1h-1zM161 343h1v2h-1zM162 344h1v2h-1zM163 345h1v1h-1zM164 344h1v3h-1zM165 345h1v2h-1zM166 346h1v1h-1zM167 346h1v2h-1zM168 346h1v2h-1zM169 346h1v2h-1zM170 346h1v1h-1zM171 346h1v2h-1zM172 346h1v2h-1zM173 346h1v2h-1zM174 347h1v1h-1zM175 347h1v2h-1zM176 347h1v1h-1zM177 348h1v1h-1zM178 348h1v1h-1zM179 348h1v1h-1zM180 348h1v1h-1zM181 348h1v2h-1zM182 349h1v2h-1zM183 349h1v1h-1zM184 349h1v1h-1zM185 348h1v2h-1zM186 349h1v1h-1zM187 349h1v2h-1zM188 348h1v1h-1zM188 350h1v1h-1zM189 349h1v1h-1zM190 343h1v1h-1zM190 346h1v1h-1zM191 342h1v2h-1zM192 343h1v2h-1zM193 344h1v2h-1zM194 344h1v2h-1zM195 345h1v2h-1zM196 344h1v2h-1zM197 344h1v1h-1zM197 346h1v1h-1zM198 343h1v2h-1zM199 343h1v2h-1zM200 343h1v2h-1zM201 343h1v2h-1zM202 343h1v1h-1zM203 343h1v1h-1zM204 343h1v1h-1zM205 342h1v2h-1zM206 341h1v2h-1zM207 342h1v2h-1zM208 343h1v1h-1zM209 343h1v2h-1zM210 343h1v2h-1zM211 344h1v1h-1zM212 344h1v1h-1zM213 342h1v2h-1zM214 341h1v2h-1zM215 340h1v2h-1zM216 340h1v2h-1zM217 338h1v1h-1zM218 337h1v2h-1zM219 336h1v1h-1zM220 333h1v3h-1zM221 331h1v1h-1zM221 333h1v1h-1zM222 328h1v3h-1zM223 327h1v1h-1zM224 326h1v1h-1zM225 319h1v1h-1zM225 323h1v1h-1zM225 325h1v1h-1zM226 318h1v1h-1zM226 320h1v1h-1zM227 318h1v2h-1zM228 318h1v2h-1zM229 318h1v2h-1zM230 319h1v1h-1zM231 319h1v1h-1zM232 319h1v1h-1zM233 320h1v2h-1zM234 322h1v2h-1zM235 324h1v3h-1zM236 325h1v1h-1zM237 325h1v2h-1zM238 325h1v1h-1zM239 324h1v2h-1zM240 324h1v2h-1zM241 324h1v2h-1zM242 324h1v2h-1zM243 321h1v2h-1zM243 325h1v1h-1zM244 320h1v2h-1zM245 320h1v1h-1zM246 319h1v1h-1zM247 320h1v2h-1zM248 321h1v2h-1zM249 321h1v2h-1zM250 322h1v2h-1zM251 323h1v2h-1zM252 324h1v1h-1zM252 326h1v2h-1zM253 327h1v1h-1zM254 327h1v1h-1zM255 328h1v1h-1zM256 327h1v2h-1zM257 327h1v2h-1zM258 327h1v2h-1zM259 325h1v2h-1zM260 324h1v2h-1zM261 324h1v1h-1zM262 325h1v1h-1zM262 327h1v1h-1zM263 328h1v2h-1zM264 329h1v1h-1zM264 331h1v1h-1zM265 331h1v2h-1zM266 332h1v2h-1zM267 333h1v2h-1zM268 334h1v2h-1zM269 335h1v1h-1zM270 335h1v2h-1zM271 336h1v1h-1zM272 337h1v1h-1zM273 337h1v2h-1zM274 338h1v2h-1zM275 337h1v1h-1zM276 338h1v2h-1zM277 339h1v1h-1zM278 339h1v1h-1zM279 339h1v1h-1zM280 338h1v2h-1zM281 338h1v3h-1zM282 337h1v2h-1zM283 338h1v1h-1zM284 337h1v1h-1zM285 337h1v2h-1zM286 337h1v1h-1zM287 337h1v1h-1zM288 336h1v2h-1zM289 336h1v2h-1zM290 335h1v2h-1zM291 335h1v1h-1zM292 334h1v1h-1zM293 332h1v3h-1zM294 332h1v1h-1zM295 331h1v2h-1zM296 331h1v1h-1zM297 330h1v2h-1zM298 330h1v1h-1zM299 330h1v2h-1zM300 331h1v1h-1zM301 331h1v2h-1zM302 332h1v2h-1zM303 332h1v2h-1zM304 332h1v2h-1zM305 332h1v2h-1zM306 333h1v1h-1zM307 333h1v1h-1zM308 332h1v1h-1zM309 327h1v1h-1zM309 330h1v2h-1zM310 322h1v1h-1zM310 324h1v1h-1zM310 326h1v1h-1zM311 321h1v2h-1zM312 320h1v2h-1zM313 320h1v1h-1zM314 317h1v3h-1zM315 315h1v1h-1zM315 317h1v1h-1zM316 312h1v2h-1zM317 311h1v2h-1zM318 291h1v1h-1zM318 311h1v2h-1zM319 193h1v1h-1zM319 238h1v1h-1zM320 182h1v2h-1zM320 189h1v1h-1zM321 179h1v2h-1zM322 179h1v2h-1zM323 179h1v2h-1zM324 184h1v1h-1zM324 189h1v1h-1zM324 191h1v1h-1zM325 192h1v1h-1zM325 194h1v1h-1zM326 197h1v2h-1zM326 200h1v1h-1zM327 201h1v2h-1zM328 205h1v2h-1zM329 208h1v1h-1zM330 210h1v1h-1zM330 212h1v1h-1zM330 215h1v1h-1zM331 217h1v2h-1zM332 218h1v1h-1zM332 221h1v1h-1zM332 224h1v1h-1zM333 226h1v1h-1zM333 228h1v1h-1zM334 230h1v1h-1zM334 234h1v1h-1zM334 237h1v1h-1zM335 240h1v2h-1zM336 244h1v1h-1zM336 246h1v1h-1zM336 251h1v1h-1zM337 254h1v2h-1zM338 258h1v1h-1zM338 261h1v1h-1zM338 265h1v1h-1zM339 267h1v1h-1zM339 270h1v1h-1zM339 273h1v1h-1zM340 274h1v1h-1zM340 277h1v1h-1zM341 278h1v1h-1zM341 281h1v1h-1zM341 284h1v1h-1zM342 286h1v1h-1zM342 289h1v1h-1zM343 293h1v1h-1zM343 295h1v1h-1zM343 297h1v1h-1zM344 299h1v1h-1zM344 301h1v1h-1zM345 304h1v1h-1zM345 306h1v2h-1zM346 309h1v2h-1zM347 312h1v2h-1zM347 315h1v1h-1zM348 317h1v2h-1zM349 320h1v1h-1zM349 322h1v1h-1zM350 323h1v2h-1zM351 322h1v3h-1zM352 323h1v2h-1zM353 325h1v3h-1zM354 328h1v1h-1zM354 330h1v1h-1zM355 331h1v3h-1zM356 335h1v1h-1zM357 336h1v3h-1zM358 339h1v2h-1zM359 339h1v2h-1zM360 340h1v2h-1zM361 341h1v2h-1zM362 341h1v2h-1zM363 341h1v1h-1zM363 343h1v1h-1zM364 341h1v1h-1zM365 340h1v2h-1zM366 340h1v1h-1zM367 340h1v1h-1zM368 339h1v1h-1zM368 341h1v1h-1zM369 342h1v2h-1zM370 343h1v1h-1zM371 344h1v1h-1zM372 344h1v2h-1zM373 344h1v2h-1zM374 344h1v2h-1zM375 344h1v2h-1zM376 345h1v1h-1zM377 346h1v2h-1zM378 346h1v2h-1zM379 346h1v2h-1zM380 345h1v2h-1zM381 345h1v1h-1zM382 344h1v2h-1zM383 344h1v2h-1zM384 343h1v1h-1zM385 342h1v2h-1zM386 341h1v2h-1zM387 341h1v1h-1zM388 340h1v2h-1zM389 340h1v2h-1zM390 341h1v2h-1zM391 342h1v1h-1zM392 342h1v2h-1zM393 343h1v1h-1zM394 342h1v1h-1zM395 340h1v3h-1zM396 339h1v2h-1zM397 340h1v1h-1zM398 339h1v1h-1zM399 340h1v1h-1zM400 339h1v2h-1zM401 340h1v2h-1zM402 340h1v1h-1zM403 340h1v2h-1zM404 339h1v2h-1zM405 335h1v1h-1zM405 337h1v1h-1zM405 340h1v1h-1zM406 328h1v1h-1zM406 332h1v1h-1zM407 314h1v1h-1zM407 319h1v1h-1zM407 323h1v1h-1zM408 314h1v1h-1zM409 315h1v2h-1zM409 318h1v1h-1zM410 319h1v1h-1zM410 322h1v1h-1zM411 324h1v1h-1zM411 326h1v2h-1zM412 327h1v2h-1zM413 328h1v2h-1zM414 329h1v1h-1zM415 330h1v1h-1zM416 331h1v1h-1zM417 331h1v3h-1zM418 333h1v1h-1zM419 334h1v3h-1zM420 336h1v1h-1zM421 336h1v2h-1zM422 338h1v1h-1zM423 339h1v1h-1zM424 339h1v2h-1zM425 340h1v2h-1zM426 340h1v1h-1zM427 340h1v1h-1zM428 338h1v1h-1zM428 340h1v1h-1zM429 338h1v1h-1zM430 337h1v2h-1zM431 337h1v1h-1zM432 336h1v2h-1zM433 335h1v2h-1zM434 335h1v2h-1zM435 336h1v1h-1zM436 337h1v1h-1zM437 338h1v1h-1zM438 337h1v2h-1zM439 337h1v2h-1zM440 337h1v1h-1zM441 336h1v1h-1zM442 335h1v2h-1zM443 336h1v1h-1zM444 335h1v1h-1zM445 336h1v1h-1zM446 335h1v1h-1zM446 337h1v1h-1zM447 335h1v1h-1zM448 334h1v2h-1zM449 334h1v2h-1zM450 334h1v1h-1zM451 335h1v1h-1zM452 334h1v1h-1zM453 334h1v2h-1zM454 334h1v1h-1zM455 333h1v1h-1zM456 331h1v2h-1zM457 331h1v2h-1zM458 329h1v2h-1zM459 329h1v2h-1zM460 326h1v1h-1zM460 328h1v1h-1zM461 325h1v2h-1zM462 326h1v2h-1zM463 326h1v3h-1zM464 328h1v1h-1zM465 327h1v2h-1zM466 327h1v1h-1zM467 327h1v1h-1zM468 328h1v2h-1zM469 330h1v1h-1zM470 322h1v1h-1zM470 326h1v1h-1zM471 316h1v1h-1zM471 318h1v1h-1zM472 316h1v1h-1zM472 318h1v1h-1zM473 319h1v1h-1zM473 321h1v2h-1zM474 323h1v1h-1zM474 325h1v1h-1zM475 326h1v1h-1zM475 329h1v1h-1zM476 330h1v2h-1zM477 332h1v2h-1zM478 332h1v1h-1zM479 330h1v2h-1zM480 331h1v1h-1zM481 331h1v2h-1zM482 332h1v2h-1zM483 333h1v1h-1zM484 327h1v1h-1zM484 331h1v2h-1zM485 327h1v1h-1zM486 327h1v1h-1zM487 327h1v2h-1zM488 329h1v2h-1zM489 331h1v1h-1zM489 333h1v1h-1zM490 333h1v2h-1zM491 335h1v1h-1zM492 336h1v2h-1zM493 336h1v2h-1zM494 337h1v2h-1zM495 339h1v1h-1zM496 338h1v1h-1zM497 339h1v1h-1zM498 339h1v1h-1zM499 339h1v1h-1zM500 340h1v1h-1zM501 339h1v1h-1zM502 339h1v2h-1zM503 340h1v1h-1zM504 340h1v2h-1zM505 339h1v2h-1zM506 340h1v1h-1zM507 340h1v1h-1zM508 339h1v2h-1zM509 339h1v2h-1zM510 339h1v1h-1zM511 337h1v2h-1zM512 337h1v1h-1zM513 335h1v3h-1zM514 336h1v1h-1zM515 336h1v2h-1zM516 337h1v1h-1zM517 337h1v2h-1zM518 337h1v1h-1zM518 339h1v1h-1zM519 338h1v2h-1zM520 338h1v1h-1zM521 335h1v1h-1zM521 337h1v1h-1zM522 333h1v2h-1zM523 324h1v1h-1zM523 327h1v1h-1zM523 330h1v1h-1zM524 320h1v1h-1zM525 320h1v3h-1zM526 323h1v2h-1zM527 325h1v3h-1zM528 328h1v1h-1zM529 328h1v2h-1zM530 329h1v1h-1zM531 329h1v2h-1zM532 328h1v1h-1zM533 327h1v1h-1zM534 326h1v2h-1zM535 326h1v2h-1zM536 325h1v1h-1zM537 324h1v1h-1zM538 323h1v2h-1zM539 323h1v2h-1zM540 324h1v2h-1zM541 323h1v2h-1zM542 323h1v2h-1zM543 322h1v1h-1zM544 318h1v1h-1zM544 320h1v2h-1zM545 316h1v1h-1zM545 318h1v1h-1zM546 288h1v1h-1zM546 301h1v1h-1zM546 312h1v1h-1zM547 263h1v1h-1zM547 276h1v1h-1zM548 246h1v1h-1zM548 248h1v1h-1zM548 252h1v1h-1zM549 242h1v2h-1zM550 239h1v2h-1zM551 238h1v1h-1zM552 237h1v1h-1zM553 237h1v1h-1zM554 238h1v1h-1zM555 238h1v1h-1zM556 240h1v1h-1zM557 242h1v1h-1zM557 244h1v1h-1zM558 246h1v1h-1zM558 248h1v1h-1zM558 251h1v1h-1zM559 252h1v1h-1zM559 254h1v1h-1zM560 255h1v1h-1zM560 257h1v1h-1zM561 257h1v1h-1zM561 259h1v1h-1zM562 259h1v2h-1zM562 262h1v1h-1zM563 263h1v1h-1zM564 265h1v2h-1zM565 268h1v1h-1zM566 269h1v2h-1zM567 243h1v1h-1zM567 254h1v1h-1zM567 264h1v1h-1zM568 229h1v1h-1zM568 234h1v1h-1zM569 226h1v1h-1zM569 228h1v1h-1zM569 230h1v1h-1zM570 230h1v1h-1zM570 232h1v1h-1zM571 238h1v1h-1zM571 245h1v1h-1zM571 251h1v1h-1zM572 255h1v1h-1zM572 259h1v1h-1zM573 266h1v1h-1zM573 270h1v1h-1zM573 273h1v1h-1zM574 275h1v1h-1zM574 278h1v1h-1zM575 282h1v1h-1zM575 284h1v2h-1zM576 287h1v2h-1zM577 288h1v3h-1zM578 290h1v2h-1zM579 291h1v1h-1zM579 293h1v2h-1zM580 294h1v2h-1zM581 295h1v1h-1zM581 297h1v2h-1zM582 298h1v2h-1zM583 299h1v3h-1zM584 301h1v1h-1zM585 302h1v1h-1zM586 303h1v1h-1zM587 304h1v1h-1zM588 305h1v1h-1zM589 306h1v2h-1zM590 307h1v2h-1zM591 308h1v1h-1zM591 310h1v2h-1zM592 312h1v1h-1zM593 312h1v3h-1zM594 313h1v1h-1zM594 315h1v1h-1zM595 315h1v2h-1zM596 316h1v1h-1zM597 317h1v1h-1zM598 316h1v2h-1zM599 316h1v1h-1zM600 313h1v1h-1zM600 315h1v1h-1zM601 311h1v1h-1zM602 302h1v1h-1zM602 304h1v1h-1zM602 307h1v1h-1zM603 297h1v1h-1zM603 299h1v1h-1zM604 298h1v2h-1zM605 299h1v1h-1zM606 299h1v2h-1zM607 300h1v1h-1zM608 300h1v2h-1zM609 301h1v2h-1zM610 302h1v2h-1zM611 304h1v2h-1zM612 306h1v3h-1zM613 308h1v1h-1zM614 309h1v2h-1zM615 311h1v2h-1zM616 312h1v2h-1zM617 313h1v2h-1zM618 314h1v3h-1zM619 316h1v2h-1zM620 317h1v2h-1zM621 318h1v1h-1zM621 320h1v1h-1zM622 320h1v2h-1zM623 321h1v1h-1zM623 323h1v1h-1zM624 322h1v1h-1z"/>
</g>
<g><text x="156.65 165.14 174.05 181.58 191.18 196.44 204.15 207.66 217.27 226.31 234.01 238.1 245.56 253.59 266.24 271.61 277.35 281.74 289.14 297.1 302 307.11 312.06 317.94 325.21 333.27 342.48 346.63 354.63 358.99 364.36 369.41 377.03 379.98 387.45 395.35 401.43 407.03 417.94 422.84 431.4 437.2 442.56 447.72 455.77 460.16 467.19 474.34 480.43 485.35 493.5 497.87 505.31 511.99" y="19" font-size="13" stroke="#000" stroke-width="0">GOES 0.1–0.8nm (red), LYRA Al (blue) &amp; Zr (grey) proxy</text>
<text y="470" font-size="10.3" stroke="#000" stroke-width="0.2"><tspan x="266.19 271.97 274.8 283.8 290.58" y="470">Time </tspan><tspan x="295.85" y="472.27" font-size="15.45" stroke-width="0">/</tspan><tspan x="302.55 306.45 313.57 317.27 323.83 328.86 336.25 340.35 344.59 350.89 357.99 362.19 366.96 372.93 380.04 384.28 390.58 396.88 403.19" y="470"> h UTC, 02 Jun 2025</tspan></text>
<text x="524.06 531.58 540.03 550 555.46 562.72 565.5 572.88 581.26 585.98 590.55 598.84 602.97 609.86 616.04 622.23 628.82 631.67 637.96 642.68 647.24 654.94 661.53 664.51 671.34 674.2 681.73" y="495" font-size="11.2" stroke="#000" stroke-width="0.2" transform="scale(0.93,1)">ROB/SIDC, Brussels, Belgium</text>
<text x="49.22" y="458" font-size="10" stroke="#000" stroke-width="0.25">0</text>
<text x="168.4" y="458" font-size="10" stroke="#000" stroke-width="0.25">5</text>
<text x="284.01 290.65" y="458" font-size="10" stroke="#000" stroke-width="0.25">10</text>
<text x="403.17 409.83" y="458" font-size="10" stroke="#000" stroke-width="0.25">15</text>
<text x="522.79 528.99" y="458" font-size="10" stroke="#000" stroke-width="0.25">20</text>
<g transform="translate(634.93,0) scale(0.85,1) translate(-634.93,0)"><text x="631.19" y="80" font-size="11.2" stroke="#000" stroke-width="0.2">X</text></g>
<g transform="translate(635.6,0) scale(0.82,1) translate(-635.6,0)"><text x="630.93" y="185" font-size="11.2" stroke="#000" stroke-width="0.2">M</text></g>
<g transform="translate(634.93,0) scale(0.92,1) translate(-634.93,0)"><text x="630.81" y="290" font-size="11.2" stroke="#000" stroke-width="0.2">C</text></g>
<g transform="translate(635.26,0) scale(0.9,1) translate(-635.26,0)"><text x="631.36" y="395" font-size="11.2" stroke="#000" stroke-width="0.2">B</text></g>
<text y="30" font-size="8.2" stroke="#000" stroke-width="0.3"><tspan x="33.16 38.52">10</tspan><tspan x="43.1" y="27" font-size="8">−</tspan><tspan x="47.56" y="26" font-size="5.33">3</tspan></text>
<text y="133" font-size="8.2" stroke="#000" stroke-width="0.3"><tspan x="33.16 38.52">10</tspan><tspan x="43.1" y="130" font-size="8">−</tspan><tspan x="47.56" y="129" font-size="5.33">4</tspan></text>
<text y="238" font-size="8.2" stroke="#000" stroke-width="0.3"><tspan x="33.16 38.52">10</tspan><tspan x="43.1" y="235" font-size="8">−</tspan><tspan x="47.55" y="234" font-size="5.33">5</tspan></text>
<text y="343" font-size="8.2" stroke="#000" stroke-width="0.3"><tspan x="33.16 38.52">10</tspan><tspan x="43.1" y="340" font-size="8">−</tspan><tspan x="47.52" y="339" font-size="5.33">6</tspan></text>
<text y="445" font-size="8.2" stroke="#000" stroke-width="0.3"><tspan x="33.16 38.52">10</tspan><tspan x="43.1" y="442" font-size="8">−</tspan><tspan x="47.54" y="441" font-size="5.33">7</tspan></text>
<text transform="translate(26,0) rotate(-90)" y="0" font-size="7.6" stroke="#000" stroke-width="0.3"><tspan x="-289.88 -284.45 -278.79 -273.99 -268 -264.99 -262.37 -259.11 -256.29 -251.27 -246.7 -244.74 -239.94 -235.02 -230.64 -225.33" y="0">GOES Irradiance </tspan><tspan x="-221.09" y="1.67" font-size="11.4" stroke-width="0">/</tspan><tspan x="-215.79 -212.32 -209.79 -202.24 -198.57" y="0"> (W m</tspan><tspan x="-190.86 -186.45" y="-4" font-size="5.7">−2</tspan><tspan x="-182.4" y="0">)</tspan></text></g>
</svg>
</body></html>
